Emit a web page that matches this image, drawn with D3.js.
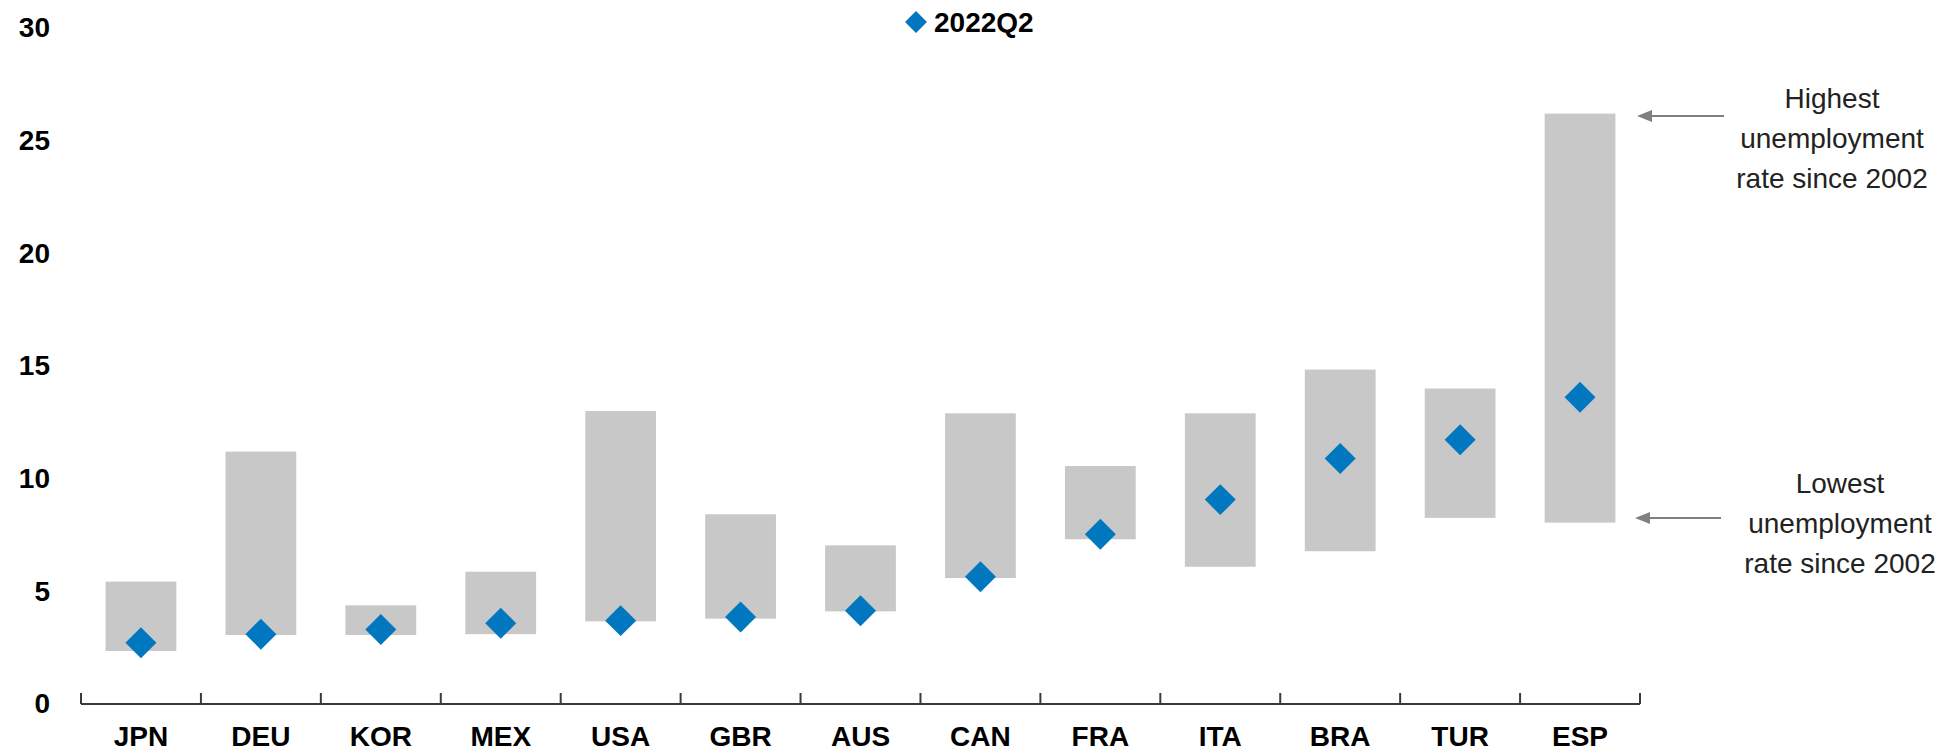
<!DOCTYPE html>
<html>
<head>
<meta charset="utf-8">
<script src="https://cdn.jsdelivr.net/npm/d3@7"></script>
<style>
  html, body { margin: 0; padding: 0; background: #fff; }
  svg { display: block; }
  text { font-family: "Liberation Sans", Arial, sans-serif; }
</style>
</head>
<body>
<svg id="chart" width="1951" height="753"></svg>
<script>
const categories = ["JPN","DEU","KOR","MEX","USA","GBR","AUS","CAN","FRA","ITA","BRA","TUR","ESP"];
const highest   = [5.43, 11.2, 4.38, 5.87, 13.0, 8.42, 7.04, 12.9, 10.56, 12.9, 14.84, 14.0, 26.2];
const lowest    = [2.35, 3.06, 3.06, 3.10, 3.67, 3.79, 4.11, 5.59, 7.31, 6.09, 6.78, 8.26, 8.05];
const q2022     = [2.72, 3.10, 3.31, 3.58, 3.70, 3.86, 4.14, 5.65, 7.53, 9.07, 10.89, 11.73, 13.61];
const yTicks    = [0, 5, 10, 15, 20, 25, 30];
const legendLabel = "2022Q2";
const noteHigh  = ["Highest", "unemployment", "rate since 2002"];
const noteLow   = ["Lowest", "unemployment", "rate since 2002"];

const svg = d3.select("#chart");
const barColor = "#c8c8c8";
const dotColor = "#0077bf";

const x = d3.scaleBand().domain(categories).range([81, 1640])
  .paddingInner(0.41).paddingOuter(0.205);
const y = d3.scaleLinear().domain([0, 30]).range([704, 28]);

// bars (range between lowest and highest)
svg.append("g").selectAll("rect").data(categories).join("rect")
  .attr("x", d => x(d))
  .attr("width", x.bandwidth())
  .attr("y", (d, i) => y(highest[i]))
  .attr("height", (d, i) => y(lowest[i]) - y(highest[i]))
  .attr("fill", barColor);

// diamonds
const diamond = d3.symbol().type(d3.symbolSquare).size(480);
svg.append("g").selectAll("path").data(categories).join("path")
  .attr("d", diamond)
  .attr("transform", (d, i) => `translate(${x(d) + x.bandwidth() / 2},${y(q2022[i])}) rotate(45)`)
  .attr("fill", dotColor);

// x axis
const xAxis = d3.axisBottom(x).tickSize(0).tickPadding(0);
const gx = svg.append("g").attr("transform", `translate(0,${y(0)})`).call(xAxis);
gx.select(".domain").remove();
gx.selectAll(".tick text")
  .attr("dy", null).attr("y", 42)
  .style("font-family", '"Liberation Sans", Arial, sans-serif')
  .style("font-size", "28px").style("font-weight", "bold").attr("fill", "#000");

const [r0, r1] = x.range();
const step = x.step();
const boundaries = d3.range(categories.length + 1).map(i => r0 + i * step);
gx.append("line").attr("x1", r0).attr("x2", r1).attr("y1", 0).attr("y2", 0)
  .attr("stroke", "#3a3a3a").attr("stroke-width", 2);
gx.selectAll(".btick").data(boundaries).join("line").attr("class", "btick")
  .attr("x1", d => d).attr("x2", d => d).attr("y1", 0).attr("y2", -11)
  .attr("stroke", "#3a3a3a").attr("stroke-width", 2);

// y axis labels
const yAxis = d3.axisLeft(y).tickValues(yTicks).tickSize(0).tickPadding(0);
const gy = svg.append("g").attr("transform", "translate(50,0)").call(yAxis);
gy.select(".domain").remove();
gy.selectAll(".tick text")
  .style("font-family", '"Liberation Sans", Arial, sans-serif')
  .style("font-size", "28px").style("font-weight", "bold").attr("fill", "#000");

// legend
const lg = svg.append("g");
lg.append("path").attr("d", d3.symbol().type(d3.symbolSquare).size(240))
  .attr("transform", "translate(916,22) rotate(45)").attr("fill", dotColor);
lg.append("text").attr("x", 934).attr("y", 32)
  .style("font-size", "28px").style("font-weight", "bold").attr("fill", "#000")
  .text(legendLabel);

// annotations
const espIdx = categories.indexOf("ESP");
const arrowColor = "#808080";
function arrow(yv, x1, x2) {
  const yy = y(yv);
  svg.append("line").attr("x1", x1 + 12).attr("x2", x2).attr("y1", yy).attr("y2", yy)
    .attr("stroke", arrowColor).attr("stroke-width", 2);
  svg.append("path")
    .attr("d", `M${x1},${yy} L${x1 + 15},${yy - 6} L${x1 + 15},${yy + 6} Z`)
    .attr("fill", arrowColor);
}
arrow(highest[espIdx] - 0.1, 1637, 1724);
arrow(lowest[espIdx] + 0.2, 1635, 1721);

function note(lines, cx, y0) {
  const t = svg.append("text").attr("text-anchor", "middle")
    .style("font-size", "28px").attr("fill", "#222");
  lines.forEach((l, i) => t.append("tspan").attr("x", cx).attr("y", y0 + i * 40).text(l));
}
note(noteHigh, 1832, 108);
note(noteLow, 1840, 493);
</script>
</body>
</html>
